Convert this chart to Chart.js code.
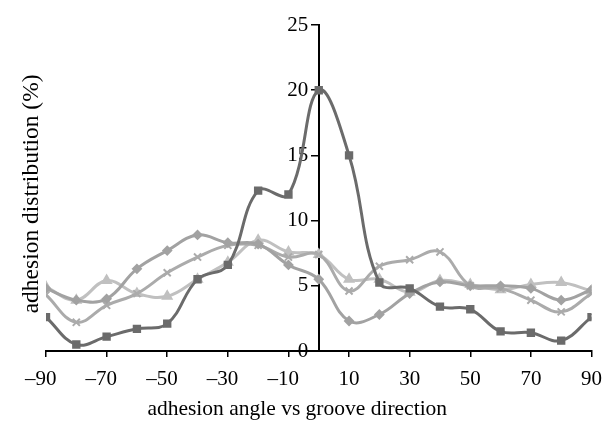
<!DOCTYPE html>
<html>
<head>
<meta charset="utf-8">
<script src="https://cdn.jsdelivr.net/npm/chart.js@4"></script>
<style>
  html, body { margin: 0; padding: 0; background: #fff; }
  #wrap { width: 612px; height: 422px; }
</style>
</head>
<body>
<div id="wrap"><canvas id="lineChart"></canvas></div>
<script>
const angles = [-90, -80, -70, -60, -50, -40, -30, -20, -10, 0, 10, 20, 30, 40, 50, 60, 70, 80, 90];
const squareSeries  = [2.6, 0.5, 1.1, 1.7, 2.1, 5.5, 6.6, 12.3, 12.0, 20.0, 15.0, 5.25, 4.8, 3.4, 3.2, 1.5, 1.4, 0.8, 2.6];
const diamondSeries = [4.8, 3.9, 4.0, 6.3, 7.7, 8.9, 8.3, 8.2, 6.6, 5.5, 2.3, 2.8, 4.4, 5.3, 5.0, 5.0, 4.8, 3.9, 4.7];
const crossSeries   = [4.3, 2.2, 3.5, 4.4, 6.0, 7.2, 8.1, 8.1, 7.2, 7.4, 4.6, 6.5, 7.0, 7.6, 5.0, 4.8, 3.9, 3.0, 4.4];
const triangleSeries = [4.9, 3.9, 5.4, 4.4, 4.2, 5.5, 6.8, 8.5, 7.6, 7.4, 5.5, 5.5, 4.5, 5.4, 5.1, 4.7, 5.1, 5.25, 4.6];
const xTicks = [-90, -70, -50, -30, -10, 10, 30, 50, 70, 90];
const yTicks = [0, 5, 10, 15, 20, 25];

const pts = vals => vals.map((v, i) => ({ x: angles[i], y: v }));
const tickFont = { family: 'Liberation Serif', size: 21 };
// negative labels: dash hangs to the left, digits stay centred on the tick
const xLabel = v => v < 0 ? '\u2013' + Math.abs(v) + '  ' : String(v);

function series(vals, color, style, radius) {
  return {
    data: pts(vals),
    borderColor: color,
    backgroundColor: color,
    pointBackgroundColor: color,
    pointBorderColor: color,
    pointStyle: style,
    pointRadius: radius,
    pointBorderWidth: 2,
    borderWidth: 3,
    tension: 0.4
  };
}

new Chart(document.getElementById('lineChart'), {
  type: 'line',
  data: {
    datasets: [
      series(squareSeries, '#6b6b6b', 'rect', 4.5),
      series(diamondSeries, '#a2a2a2', 'rectRot', 4),
      series(crossSeries, '#ababab', 'crossRot', 5),
      series(triangleSeries, '#c0c0c0', 'triangle', 5)
    ]
  },
  options: {
    responsive: true,
    maintainAspectRatio: false,
    animation: false,
    layout: { padding: { top: 25, right: 20, left: 0, bottom: 0 } },
    plugins: { legend: { display: false }, tooltip: { enabled: false } },
    scales: {
      x: {
        type: 'linear',
        min: -90,
        max: 90,
        afterBuildTicks: s => { s.ticks = xTicks.map(v => ({ value: v })); },
        ticks: { color: '#000', font: tickFont, padding: 10, maxRotation: 0, callback: xLabel },
        grid: { display: true, drawOnChartArea: false, color: '#000', tickLength: 6, lineWidth: 1.5 },
        border: { color: '#000', width: 2 },
        title: {
          display: true, text: 'adhesion angle vs groove direction        ', color: '#000',
          font: { family: 'Liberation Serif', size: 21.5 }, padding: { top: -6, bottom: 0 }
        }
      },
      y: {
        position: { x: 0 },
        min: 0,
        max: 25,
        afterBuildTicks: s => { s.ticks = yTicks.map(v => ({ value: v })); },
        ticks: { color: '#000', font: tickFont, padding: 0, callback: v => v + '  ' },
        grid: { display: true, drawOnChartArea: false, color: '#000', tickLength: 7, lineWidth: 1.5 },
        border: { color: '#000', width: 2 }
      },
      yTitle: {
        type: 'linear',
        position: 'left',
        min: 0,
        max: 25,
        afterFit: s => { s.width = 46; },
        ticks: { display: false },
        grid: { display: false },
        border: { display: false },
        title: {
          display: true, text: 'adhesion distribution (%)  ', color: '#000',
          font: { family: 'Liberation Serif', size: 23.5 }, padding: { top: 18, bottom: 0 }
        }
      }
    }
  }
});
</script>
</body>
</html>
